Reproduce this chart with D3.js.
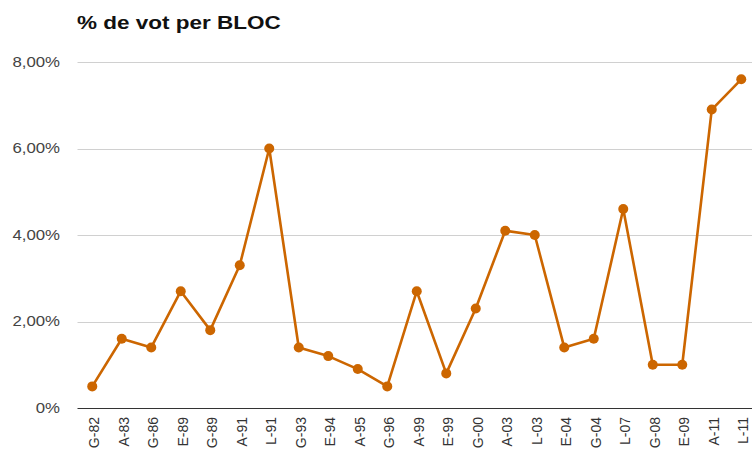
<!DOCTYPE html>
<html><head><meta charset="utf-8">
<script src="https://cdn.jsdelivr.net/npm/d3@7"></script>
<style>
html,body{margin:0;padding:0;background:#fff;overflow:hidden;}
text{font-family:Arial,"Liberation Sans",sans-serif;}
</style></head>
<body>
<svg id="chart" width="752" height="452"></svg>
<script>
const title = "% de vot per BLOC";
const categories = ["G-82","A-83","G-86","E-89","G-89","A-91","L-91","G-93","E-94","A-95","G-96","A-99","E-99","G-00","A-03","L-03","E-04","G-04","L-07","G-08","E-09","A-11","L-11"];
const values = [0.5,1.6,1.4,2.7,1.8,3.3,6.0,1.4,1.2,0.9,0.5,2.7,0.8,2.3,4.1,4.0,1.4,1.6,4.6,1.0,1.0,6.9,7.6];
const yTicks = [0,2,4,6,8];

const svg = d3.select("#chart");
const mLeft = 77.5, mRight = 756, mTop = 62, mBottom = 408;
const color = "#cc6600";

const x = d3.scaleBand().domain(categories).range([mLeft, mRight]);
const y = d3.scaleLinear().domain([0, 8]).range([mBottom, mTop]);

// gridlines
svg.append("g").selectAll("line").data(yTicks.filter(d => d > 0)).join("line")
  .attr("x1", mLeft).attr("x2", 752)
  .attr("y1", d => Math.round(y(d)) + 0.5).attr("y2", d => Math.round(y(d)) + 0.5)
  .attr("stroke", "#d0d0d0").attr("stroke-width", 1);

// y labels
const fmt = d => d === 0 ? "0%" : d.toFixed(2).replace(".", ",") + "%";
svg.append("g").selectAll("text").data(yTicks).join("text")
  .attr("transform", d => `translate(60,${y(d)}) scale(1.2,1)`)
  .attr("dy", "0.35em")
  .attr("text-anchor", "end")
  .attr("font-size", 14)
  .attr("fill", "#444")
  .text(fmt);

// x axis line
svg.append("line").attr("x1", mLeft).attr("x2", 752)
  .attr("y1", Math.round(y(0)) + 0.5).attr("y2", Math.round(y(0)) + 0.5)
  .attr("stroke", "#333").attr("stroke-width", 1);

// x labels
svg.append("g").selectAll("text").data(categories).join("text")
  .attr("transform", d => `translate(${x(d) + x.bandwidth() / 2 + 2},417) rotate(-90)`)
  .attr("dy", "0.35em")
  .attr("text-anchor", "end")
  .attr("font-size", 14)
  .attr("fill", "#333")
  .text(d => d);

// line
const cx = (d, i) => x(categories[i]) + x.bandwidth() / 2;
svg.append("path").datum(values)
  .attr("d", d3.line().x(cx).y(d => y(d)))
  .attr("fill", "none").attr("stroke", color).attr("stroke-width", 2.6)
  .attr("stroke-linejoin", "round");

svg.append("g").selectAll("circle").data(values).join("circle")
  .attr("cx", cx).attr("cy", d => y(d)).attr("r", 5)
  .attr("fill", color);

// title
svg.append("text")
  .attr("transform", "translate(77,29) scale(1.25,1)")
  .attr("font-size", 18).attr("font-weight", "bold").attr("fill", "#111")
  .text(title);
</script>
</body></html>
